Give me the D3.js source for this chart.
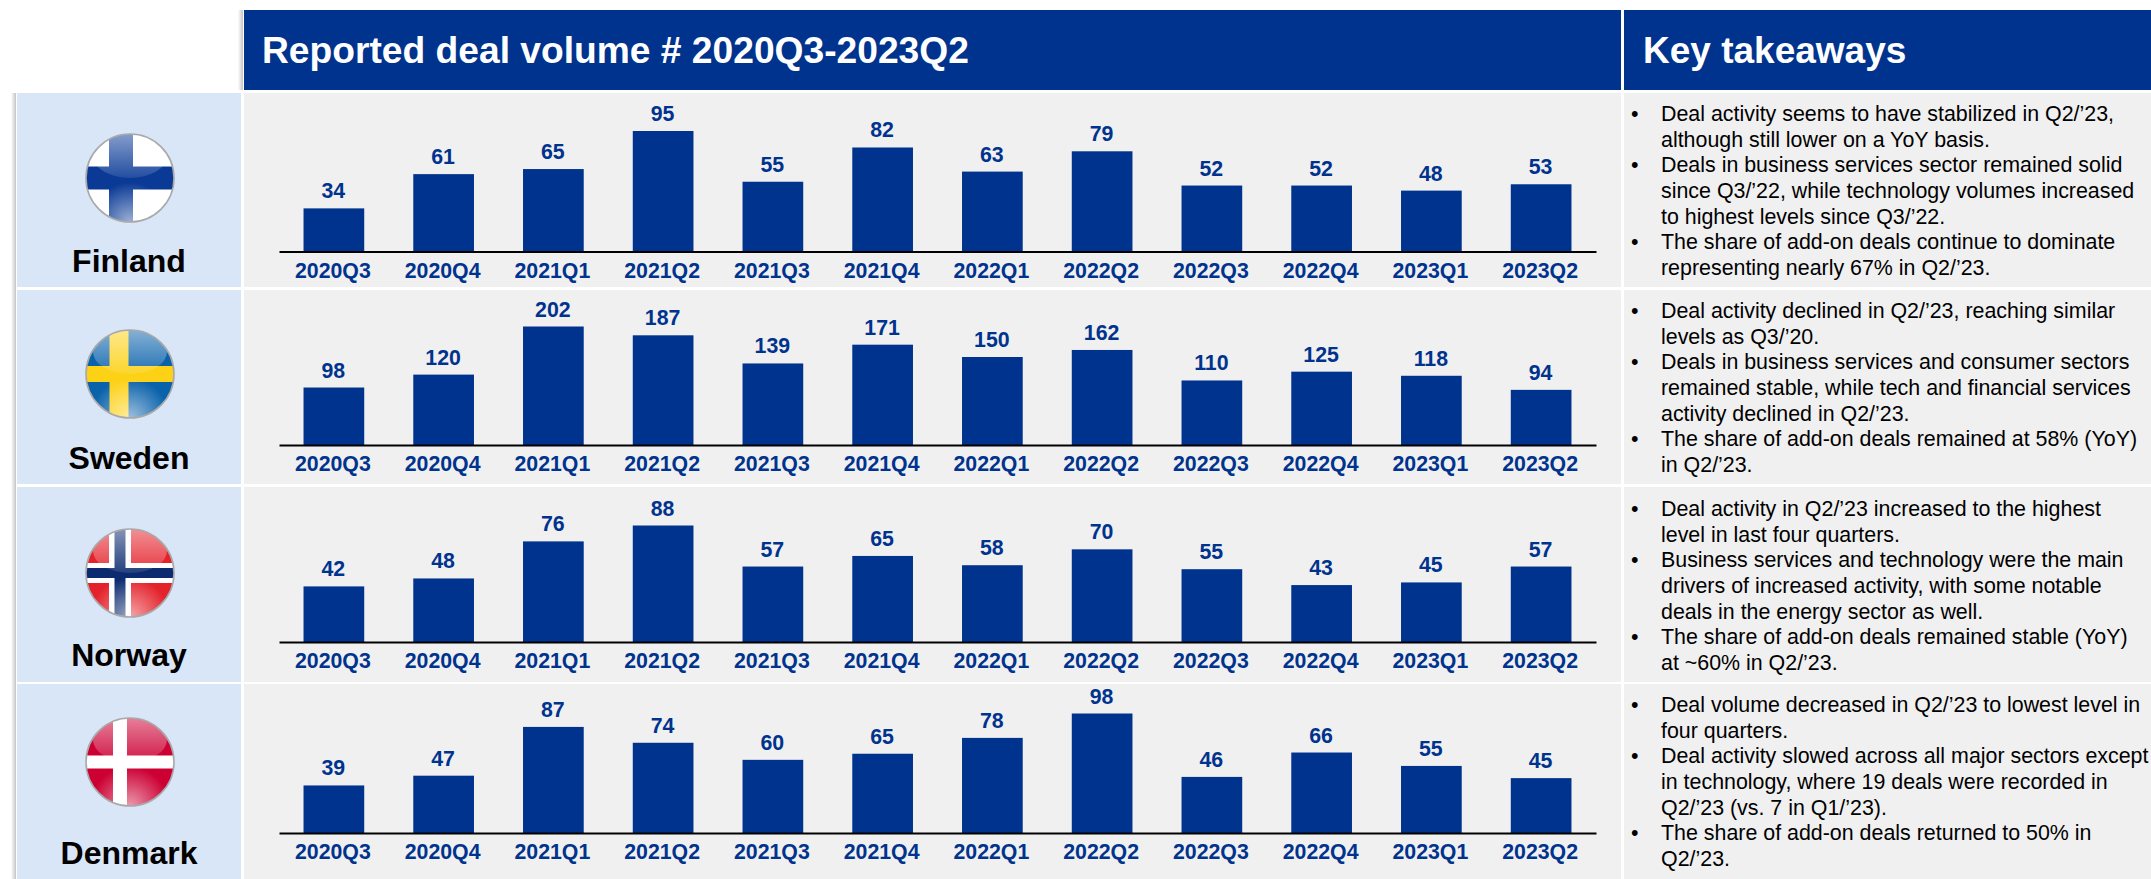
<!DOCTYPE html>
<html>
<head>
<meta charset="utf-8">
<script src="https://cdnjs.cloudflare.com/ajax/libs/d3/7.8.5/d3.min.js"></script>
<style>
  html, body { margin: 0; padding: 0; background: #fff; }
  svg { display: block; font-family: "Liberation Sans", Arial, sans-serif; }
</style>
</head>
<body>
<svg id="chart" width="2151" height="879"></svg>
<script>
// Quarterly reported deal counts, one series per country
const quarters = ["2020Q3","2020Q4","2021Q1","2021Q2","2021Q3","2021Q4","2022Q1","2022Q2","2022Q3","2022Q4","2023Q1","2023Q2"];
const finlandDeals = [34,61,65,95,55,82,63,79,52,52,48,53];
const swedenDeals  = [98,120,202,187,139,171,150,162,110,125,118,94];
const norwayDeals  = [42,48,76,88,57,65,58,70,55,43,45,57];
const denmarkDeals = [39,47,87,74,60,65,78,98,46,66,55,45];

const chartTitle = "Reported deal volume # 2020Q3-2023Q2";
const notesTitle = "Key takeaways";

// Commentary per country: each bullet is a list of wrapped lines
const finlandNotes = [
  ["Deal activity seems to have stabilized in Q2/’23,", "although still lower on a YoY basis."],
  ["Deals in business services sector remained solid", "since Q3/’22, while technology volumes increased", "to highest levels since Q3/’22."],
  ["The share of add-on deals continue to dominate", "representing nearly 67% in Q2/’23."]
];
const swedenNotes = [
  ["Deal activity declined in Q2/’23, reaching similar", "levels as Q3/’20."],
  ["Deals in business services and consumer sectors", "remained stable, while tech and financial services", "activity declined in Q2/’23."],
  ["The share of add-on deals remained at 58% (YoY)", "in Q2/’23."]
];
const norwayNotes = [
  ["Deal activity in Q2/’23 increased to the highest", "level in last four quarters."],
  ["Business services and technology were the main", "drivers of increased activity, with some notable", "deals in the energy sector as well."],
  ["The share of add-on deals remained stable (YoY)", "at ~60% in Q2/’23."]
];
const denmarkNotes = [
  ["Deal volume decreased in Q2/’23 to lowest level in", "four quarters."],
  ["Deal activity slowed across all major sectors except", "in technology, where 19 deals were recorded in", "Q2/’23 (vs. 7 in Q1/’23)."],
  ["The share of add-on deals returned to 50% in", "Q2/’23."]
];

const NAVY = "#00338d";
const svg = d3.select("#chart");
const defs = svg.append("defs");

// Column edges of the table
const col = { labelL: 17, labelR: 241, chartL: 244, chartR: 1621, notesL: 1624, notesR: 2151 };
const plotL = 279, plotR = 1596;

const rows = [
  { name: "Finland", deals: finlandDeals, notes: finlandNotes, top: 93,  bottom: 287, base: 251.5, plotH: 120.5, flagY: 178, nameY: 272, noteY: 121 },
  { name: "Sweden",  deals: swedenDeals,  notes: swedenNotes,  top: 290, bottom: 484, base: 445,   plotH: 118.5, flagY: 374, nameY: 469, noteY: 318 },
  { name: "Norway",  deals: norwayDeals,  notes: norwayNotes,  top: 487, bottom: 682, base: 642,   plotH: 116.5, flagY: 573, nameY: 666, noteY: 516 },
  { name: "Denmark", deals: denmarkDeals, notes: denmarkNotes, top: 684, bottom: 879, base: 833,   plotH: 119.5, flagY: 762, nameY: 864, noteY: 712 }
];

// Soft grey edge to the left of the label column and the chart header
const edge = defs.append("linearGradient").attr("id", "edgeShade");
edge.append("stop").attr("offset", "0%").attr("stop-color", "#c4c4c4").attr("stop-opacity", 0);
edge.append("stop").attr("offset", "100%").attr("stop-color", "#c4c4c4").attr("stop-opacity", 1);
svg.append("rect").attr("x", 11).attr("y", 93).attr("width", 5).attr("height", 786).attr("fill", "url(#edgeShade)");
svg.append("rect").attr("x", 238).attr("y", 10).attr("width", 5).attr("height", 80).attr("fill", "url(#edgeShade)");

// Header bands
svg.append("rect").attr("x", col.chartL).attr("y", 10).attr("width", col.chartR - col.chartL).attr("height", 80).attr("fill", NAVY);
svg.append("rect").attr("x", col.notesL).attr("y", 10).attr("width", col.notesR - col.notesL).attr("height", 80).attr("fill", NAVY);
svg.append("text").attr("x", 262).attr("y", 63).attr("fill", "#fff").attr("font-size", 37.2).attr("font-weight", 700).text(chartTitle);
svg.append("text").attr("x", 1643).attr("y", 63).attr("fill", "#fff").attr("font-size", 37).attr("font-weight", 700).text(notesTitle);

// Shared quarter scale across every row
const x = d3.scaleBand().domain(quarters).range([plotL, plotR]).paddingInner(0.447).paddingOuter(0.2235);

// Glossy finish shared by all the round flags
const topGloss = defs.append("linearGradient").attr("id", "glossTop").attr("x1", 0).attr("x2", 0).attr("y1", 0).attr("y2", 1);
topGloss.append("stop").attr("offset", "0%").attr("stop-color", "#fff").attr("stop-opacity", 0.5);
topGloss.append("stop").attr("offset", "100%").attr("stop-color", "#fff").attr("stop-opacity", 0.1);
const bottomGlow = defs.append("radialGradient").attr("id", "glowBottom").attr("cx", "50%").attr("cy", "100%").attr("r", "45%");
bottomGlow.append("stop").attr("offset", "0%").attr("stop-color", "#fff").attr("stop-opacity", 0.6);
bottomGlow.append("stop").attr("offset", "100%").attr("stop-color", "#fff").attr("stop-opacity", 0);

// Flag layouts: base colour, then crosses given relative to the flag centre
const flagStyles = {
  Finland: { base: "#ffffff", bars: [{ fill: "#0a3a96", dx: -9, w: 24, h: 23 }] },
  Sweden:  { base: "#0a62ab", bars: [{ fill: "#fcd116", dx: -11, w: 19, h: 16 }] },
  Norway:  { base: "#e4222b", bars: [{ fill: "#ffffff", dx: -10, w: 22, h: 20 }, { fill: "#0b2a6f", dx: -10, w: 11, h: 10 }] },
  Denmark: { base: "#cc0033", bars: [{ fill: "#ffffff", dx: -10, w: 14, h: 13 }] }
};

function drawFlag(g, name, cx, cy, r) {
  const style = flagStyles[name];
  const clipId = "clip-" + name;
  defs.append("clipPath").attr("id", clipId).append("circle").attr("cx", cx).attr("cy", cy).attr("r", r);
  const f = g.append("g").attr("clip-path", `url(#${clipId})`);
  f.append("rect").attr("x", cx - r).attr("y", cy - r).attr("width", 2 * r).attr("height", 2 * r).attr("fill", style.base);
  style.bars.forEach(b => {
    f.append("rect").attr("x", cx + b.dx - b.w / 2).attr("y", cy - r).attr("width", b.w).attr("height", 2 * r).attr("fill", b.fill);
    f.append("rect").attr("x", cx - r).attr("y", cy - b.h / 2).attr("width", 2 * r).attr("height", b.h).attr("fill", b.fill);
  });
  f.append("ellipse").attr("cx", cx).attr("cy", cy - r * 0.5).attr("rx", r * 0.84).attr("ry", r * 0.5).attr("fill", "url(#glossTop)");
  f.append("circle").attr("cx", cx).attr("cy", cy).attr("r", r).attr("fill", "url(#glowBottom)");
  g.append("circle").attr("cx", cx).attr("cy", cy).attr("r", r).attr("fill", "none").attr("stroke", "#a9a9a9").attr("stroke-width", 1.6);
}

rows.forEach(row => {
  const g = svg.append("g").attr("class", "row");
  const h = row.bottom - row.top;

  g.append("rect").attr("x", col.labelL).attr("y", row.top).attr("width", col.labelR - col.labelL).attr("height", h).attr("fill", "#d9e6f7");
  g.append("rect").attr("x", col.chartL).attr("y", row.top).attr("width", col.chartR - col.chartL).attr("height", h).attr("fill", "#f0f0f0");
  g.append("rect").attr("x", col.notesL).attr("y", row.top).attr("width", col.notesR - col.notesL).attr("height", h).attr("fill", "#f0f0f0");

  drawFlag(g, row.name, 130, row.flagY, 44);
  g.append("text").attr("x", 129).attr("y", row.nameY).attr("text-anchor", "middle")
    .attr("font-size", 32).attr("font-weight", 700).attr("fill", "#000").text(row.name);

  // Each country's scale tops out at its own busiest quarter
  const y = d3.scaleLinear().domain([0, d3.max(row.deals)]).range([row.base, row.base - row.plotH]);

  g.selectAll("rect.bar").data(row.deals).join("rect").attr("class", "bar")
    .attr("x", (d, i) => x(quarters[i])).attr("width", x.bandwidth())
    .attr("y", d => y(d)).attr("height", d => y(0) - y(d)).attr("fill", NAVY);

  g.selectAll("text.value").data(row.deals).join("text").attr("class", "value")
    .attr("x", (d, i) => x(quarters[i]) + x.bandwidth() / 2 - 0.5).attr("y", d => y(d) - 10)
    .attr("text-anchor", "middle").attr("font-size", 21.3).attr("font-weight", 700).attr("fill", NAVY).text(d => d);

  const axis = g.append("g").attr("transform", `translate(0,${row.base})`)
    .call(d3.axisBottom(x).tickSize(0).tickPadding(11));
  axis.select(".domain").attr("stroke", "#000").attr("stroke-width", 2);
  axis.selectAll("text").attr("font-family", "Liberation Sans").attr("font-size", 21.3).attr("font-weight", 700).attr("fill", NAVY).attr("dx", -1);

  // Bulleted commentary, one baseline per wrapped line
  let line = 0;
  row.notes.forEach(bullet => {
    bullet.forEach((t, i) => {
      const ty = row.noteY + line * 25.65;
      if (i === 0) g.append("text").attr("x", 1631).attr("y", ty).attr("font-size", 21.4).attr("fill", "#000").text("•");
      g.append("text").attr("x", 1661).attr("y", ty).attr("font-size", 21.4).attr("fill", "#000").text(t);
      line++;
    });
  });
});
</script>
</body>
</html>
